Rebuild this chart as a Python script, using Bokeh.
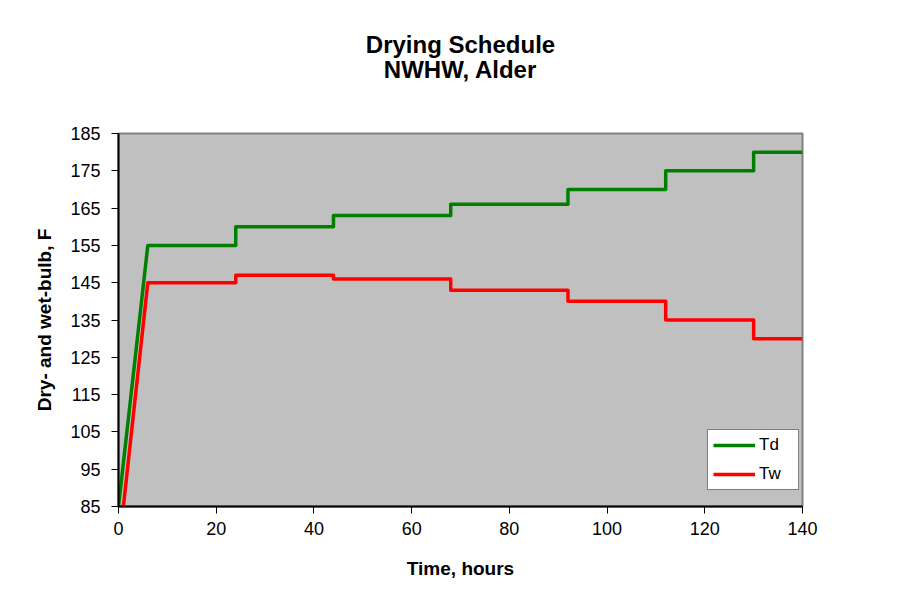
from bokeh.plotting import figure
from bokeh.models import Range1d, Legend, LegendItem, Title
from bokeh.embed import file_html
from bokeh.resources import INLINE

# ---- data ----
td_time = [0, 6, 24, 44, 68, 92, 112, 130, 140]
td_values = [85, 155, 160, 163, 166, 170, 175, 180, 180]
tw_time = [1, 6, 24, 44, 68, 92, 112, 130, 140]
tw_values = [85, 145, 147, 146, 143, 140, 135, 130, 130]
x_ticks = [0, 20, 40, 60, 80, 100, 120, 140]
y_ticks = [85, 95, 105, 115, 125, 135, 145, 155, 165, 175, 185]
title_lines = ["Drying Schedule", "NWHW, Alder"]

FONT = "Liberation Sans"


def schedule_path(t, v):
    # initial ramp, then hold-and-step segments
    xs = [t[0], t[1]]
    ys = [v[0], v[1]]
    for i in range(1, len(t) - 1):
        xs += [t[i + 1], t[i + 1]]
        ys += [v[i], v[i + 1]]
    return xs, ys


p = figure(width=916, height=601, output_backend="svg", toolbar_location=None,
           x_range=Range1d(0, 140), y_range=Range1d(85, 185),
           min_border_left=118, min_border_right=114,
           min_border_top=133, min_border_bottom=95)

p.background_fill_color = "#C0C0C0"
p.border_fill_color = "white"
p.outline_line_color = "#808080"
p.outline_line_width = 2
p.grid.visible = False

# title: spacer next to the frame, then line 2, then line 1 (outermost)
spacer = Title(text=" ", text_font_size="2px", standoff=47)
p.add_layout(spacer, "above")
sub = Title(text=title_lines[1], align="center", text_font=FONT,
            text_font_size="24px", text_font_style="bold", text_color="black",
            standoff=0, text_line_height=0.9)
p.add_layout(sub, "above")
p.title.text = title_lines[0]
p.title.align = "center"
p.title.text_font = FONT
p.title.text_font_size = "24px"
p.title.text_font_style = "bold"
p.title.text_color = "black"
p.title.standoff = -8

for ax in (p.xaxis[0], p.yaxis[0]):
    ax.axis_line_color = "black"
    ax.axis_line_width = 2
    ax.major_tick_line_color = "black"
    ax.major_tick_line_width = 1
    ax.major_tick_in = 0
    ax.major_tick_out = 7
    ax.minor_tick_line_color = None
    ax.major_label_text_font = FONT
    ax.major_label_text_font_size = "18px"
    ax.major_label_text_color = "black"
    ax.axis_label_text_font = FONT
    ax.axis_label_text_font_size = "19px"
    ax.axis_label_text_font_style = "bold"
    ax.axis_label_text_color = "black"

p.xaxis.ticker = x_ticks
p.yaxis.ticker = y_ticks
p.xaxis.axis_label = "Time, hours"
p.yaxis.axis_label = "Dry- and wet-bulb, F"
p.xaxis.major_label_standoff = 8
p.yaxis.major_label_standoff = 11
p.xaxis.axis_label_standoff = 20
p.yaxis.axis_label_standoff = 12

xs, ys = schedule_path(td_time, td_values)
r_td = p.line(xs, ys, line_color="#008000", line_width=3.5, line_join="round")
xs, ys = schedule_path(tw_time, tw_values)
r_tw = p.line(xs, ys, line_color="#FF0000", line_width=3.5, line_join="round")

legend = Legend(items=[LegendItem(label="Td", renderers=[r_td]),
                       LegendItem(label="Tw", renderers=[r_tw])],
                location=(589, 16))
legend.background_fill_color = "white"
legend.background_fill_alpha = 1
legend.border_line_color = "black"
legend.border_line_width = 1
legend.label_text_font = FONT
legend.label_text_font_size = "17px"
legend.label_text_color = "black"
legend.padding = 5
legend.margin = 0
legend.spacing = 9
legend.glyph_width = 42
legend.glyph_height = 18
legend.label_height = 18
legend.label_width = 34
legend.label_standoff = 4
p.add_layout(legend, "center")

open("out.html", "w").write(file_html(p, INLINE))
